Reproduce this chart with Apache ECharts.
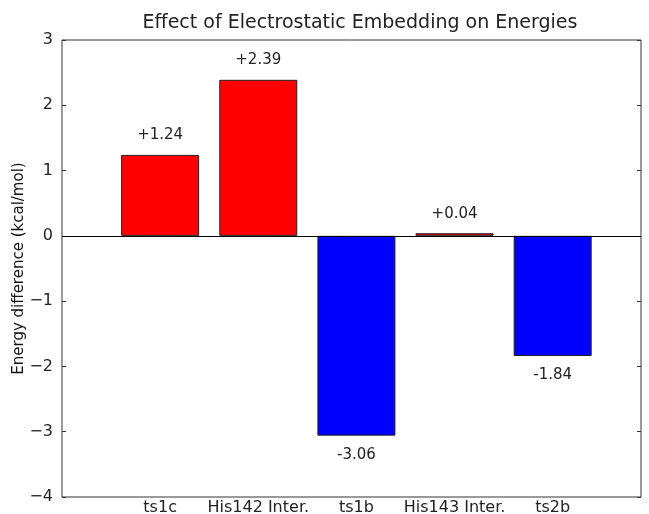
<!DOCTYPE html>
<html>
<head>
<meta charset="utf-8">
<script src="https://cdn.jsdelivr.net/npm/echarts@6/dist/echarts.min.js"></script>
<style>
  html, body { margin: 0; padding: 0; background: #fff; }
  #chart { width: 649px; height: 514px; }
</style>
</head>
<body>
<div id="chart"></div>
<script>
// Energy change from electrostatic embedding per structure (kcal/mol)
const categories = ['ts1c', 'His142 Inter.', 'ts1b', 'His143 Inter.', 'ts2b'];
const energyDiff = [1.24, 2.39, -3.06, 0.04, -1.84];
const yTicks = [-4, -3, -2, -1, 0, 1, 2, 3];

const FONT = 'DejaVu Sans';

const barData = energyDiff.map((v, i) => ({
  value: [i + 1, v],
  itemStyle: { color: v >= 0 ? '#ff0000' : '#0000ff' },
  label: {
    position: v >= 0 ? 'top' : 'bottom',
    distance: 12
  }
}));

const chart = echarts.init(document.getElementById('chart'));
chart.setOption({
  animation: false,
  backgroundColor: '#fff',
  title: {
    text: 'Effect of Electrostatic Embedding on Energies',
    left: 355, top: 9, textAlign: 'center',
    textStyle: { fontFamily: FONT, fontSize: 19, fontWeight: 'normal', color: '#222' }
  },
  grid: {
    left: 62, right: 8, top: 40, bottom: 17,
    outerBoundsMode: 'none', containLabel: false,
    show: true, borderColor: '#333', borderWidth: 1, backgroundColor: 'transparent'
  },
  xAxis: {
    type: 'value', min: 0, max: 5.9, interval: 1,
    splitLine: { show: false },
    axisLine: { show: false },
    axisTick: { show: false },
    axisLabel: {
      margin: 3, fontFamily: FONT, fontSize: 16, color: '#222',
      showMinLabel: true, showMaxLabel: false,
      formatter: v => (Number.isInteger(v) && v >= 1 && v <= categories.length) ? categories[v - 1] : ''
    }
  },
  yAxis: [{
    type: 'value', min: yTicks[0], max: yTicks[yTicks.length - 1], interval: 1,
    name: 'Energy difference (kcal/mol)', nameLocation: 'middle', nameGap: 35,
    nameMoveOverlap: false,
    nameTextStyle: { fontFamily: FONT, fontSize: 15, color: '#111' },
    splitLine: { show: false },
    axisLine: { show: false },
    axisTick: { show: true, inside: true, length: 4, lineStyle: { color: '#333' } },
    axisLabel: {
      margin: 9, fontFamily: FONT, fontSize: 16, color: '#222',
      formatter: v => (v < 0 ? '\u2212' + Math.abs(v) : String(v))
    }
  }, {
    type: 'value', position: 'right', min: yTicks[0], max: yTicks[yTicks.length - 1], interval: 1,
    splitLine: { show: false },
    axisLine: { show: false },
    axisTick: { show: true, inside: true, length: 4, lineStyle: { color: '#333' } },
    axisLabel: { show: false }
  }],
  series: [{
    type: 'bar',
    data: barData,
    barWidth: 78,
    itemStyle: { borderColor: '#222', borderWidth: 1 },
    label: {
      show: true, fontFamily: FONT, fontSize: 15, color: '#222',
      formatter: p => {
        const v = p.value[1];
        return (v >= 0 ? '+' : '') + v.toFixed(2);
      }
    },
    markLine: {
      silent: true, symbol: 'none', animation: false,
      label: { show: false },
      lineStyle: { color: '#000', width: 1, type: 'solid' },
      data: [{ yAxis: 0 }]
    }
  }]
});
</script>
</body>
</html>
